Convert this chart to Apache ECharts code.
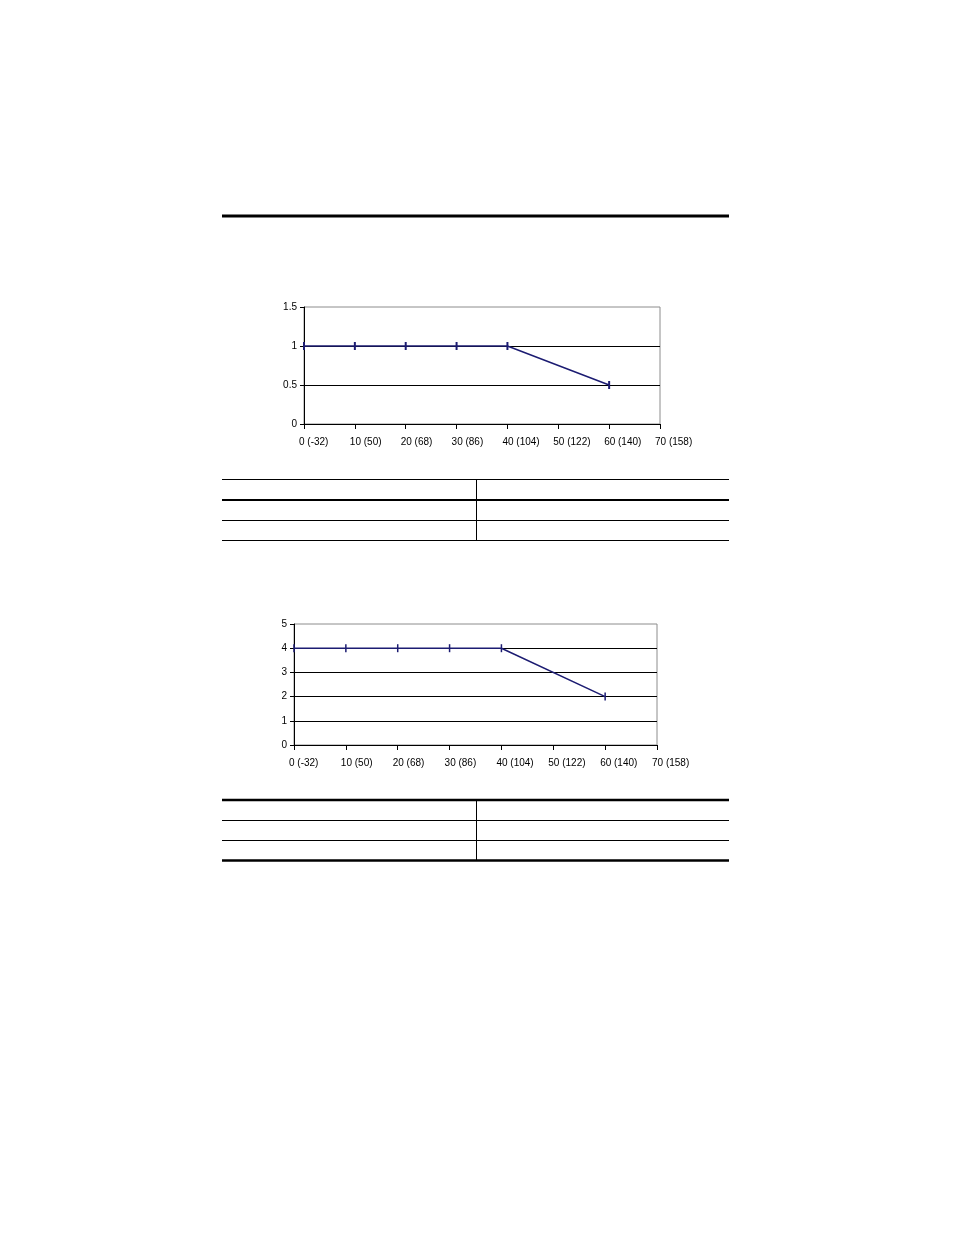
<!doctype html>
<html>
    <head>
        <meta charset="utf-8">
        <style>
            html, body { margin: 0; padding: 0; background: #fff; }
            #main { width: 954px; height: 1235px; }
        </style>
    </head>
    <body>
        <div id="main"></div>
        <script src="https://cdn.jsdelivr.net/npm/echarts@6/dist/echarts.min.js"></script>
        <script>
            var chart = echarts.init(document.getElementById('main'));

            // ambient temperature, deg C (deg F in labels)
            var tempTicks = ['0 (-32)', '10 (50)', '20 (68)', '30 (86)', '40 (104)', '50 (122)', '60 (140)', '70 (158)'];
            var temps = [0, 10, 20, 30, 40, 60];
            var derating1 = [1, 1, 1, 1, 1, 0.5];
            var derating2 = [4, 4, 4, 4, 4, 2];

            var LINE = '#1c1c72';
            var FONT = 'Liberation Sans';

            function pairs(xs, ys) {
                return xs.map(function (x, i) { return [x, ys[i]]; });
            }

            function xAxis(gridIndex) {
                return {
                    type: 'value',
                    gridIndex: gridIndex,
                    min: 0,
                    max: 70,
                    interval: 10,
                    axisLine: { lineStyle: { color: '#000', width: 1 } },
                    axisTick: { length: 5, lineStyle: { color: '#000' } },
                    splitLine: { show: false },
                    axisLabel: {
                        margin: 13,
                        align: 'left',
                        padding: [0, 0, 0, -5],
                        color: '#000',
                        fontFamily: FONT,
                        fontSize: 10,
                        formatter: function (v) { return tempTicks[Math.round(v / 10)]; }
                    }
                };
            }

            function yAxis(gridIndex, max, interval) {
                return {
                    type: 'value',
                    gridIndex: gridIndex,
                    min: 0,
                    max: max,
                    interval: interval,
                    axisLine: { show: true, lineStyle: { color: '#000', width: 1 } },
                    axisTick: { show: true, length: 4, lineStyle: { color: '#000' } },
                    splitLine: {
                        show: true,
                        showMinLine: false,
                        showMaxLine: false,
                        lineStyle: { color: '#000', width: 1 }
                    },
                    axisLabel: {
                        margin: 7,
                        color: '#000',
                        fontFamily: FONT,
                        fontSize: 10
                    }
                };
            }

            function hline(x1, x2, y, w) {
                return { type: 'line', shape: { x1: x1, y1: y, x2: x2, y2: y }, style: { stroke: '#000', lineWidth: w } };
            }
            function vline(x, y1, y2, w) {
                return { type: 'line', shape: { x1: x, y1: y1, x2: x, y2: y2 }, style: { stroke: '#000', lineWidth: w } };
            }

            chart.setOption({
                animation: false,
                backgroundColor: '#fff',
                grid: [
                    { left: 304, top: 307, width: 356, height: 117, show: true, borderColor: '#8c8c8c', borderWidth: 1 },
                    { left: 294, top: 624, width: 363, height: 121, show: true, borderColor: '#8c8c8c', borderWidth: 1 }
                ],
                xAxis: [xAxis(0), xAxis(1)],
                yAxis: [yAxis(0, 1.5, 0.5), yAxis(1, 5, 1)],
                series: [{
                    type: 'line',
                    xAxisIndex: 0,
                    yAxisIndex: 0,
                    data: pairs(temps, derating1),
                    symbol: 'rect',
                    symbolSize: [2, 8],
                    lineStyle: { color: LINE, width: 1.5 },
                    itemStyle: { color: LINE },
                    silent: true
                }, {
                    type: 'line',
                    xAxisIndex: 1,
                    yAxisIndex: 1,
                    data: pairs(temps, derating2),
                    symbol: 'rect',
                    symbolSize: [1.5, 8],
                    lineStyle: { color: LINE, width: 1.5 },
                    itemStyle: { color: LINE },
                    silent: true
                }],
                graphic: [
                    // heading rule
                    { type: 'rect', shape: { x: 222, y: 214.5, width: 507, height: 3 }, style: { fill: '#000' } },
                    // table 1
                    hline(222, 729, 479.5, 1),
                    hline(222, 729, 500, 2),
                    hline(222, 729, 520.5, 1),
                    hline(222, 729, 540.5, 1),
                    vline(476.5, 479, 541, 1),
                    // table 2
                    hline(222, 729, 800, 2.5),
                    hline(222, 729, 820.5, 1),
                    hline(222, 729, 840.5, 1),
                    hline(222, 729, 860.5, 2.5),
                    vline(476.5, 800, 861, 1)
                ]
            });

            window.addEventListener('resize', function () {
                chart.resize();
            });
        </script>
    </body>
</html>
